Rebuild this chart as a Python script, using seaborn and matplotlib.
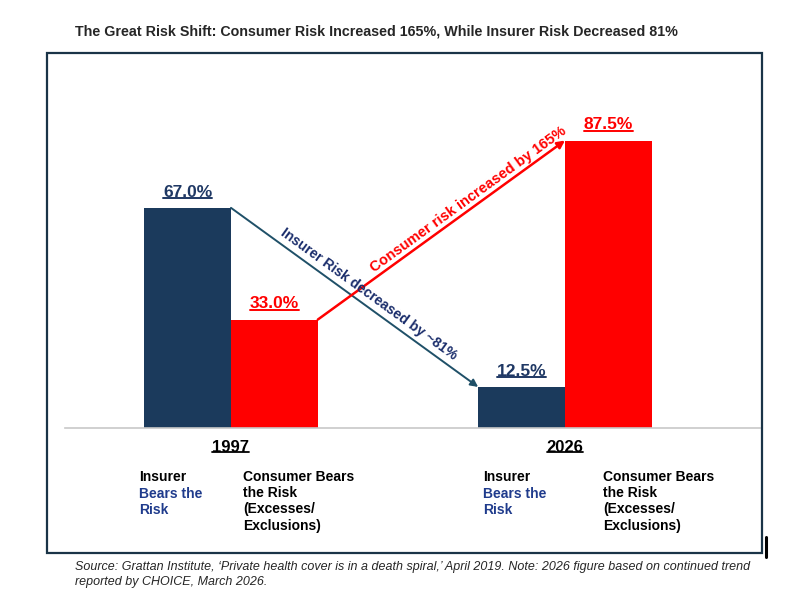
import math
import numpy as np
import pandas as pd
import seaborn as sns
import matplotlib
matplotlib.use("Agg")
import matplotlib.pyplot as plt
import matplotlib.transforms as mtransforms
from matplotlib.lines import Line2D
from matplotlib.patches import Rectangle

# ==========================================
# DATA
# ==========================================
years = ['1997', '2026']
bearers = ['Insurer', 'Consumer']
insurer_share = [67.0, 12.5]
consumer_share = [33.0, 87.5]
change_labels = ['Insurer Risk decreased by ~81%', 'Consumer risk increased by 165%']

title = 'The Great Risk Shift: Consumer Risk Increased 165%, While Insurer Risk Decreased 81%'
source = ("Source: Grattan Institute, \u2018Private health cover is in a death spiral,\u2019 April 2019. "
          "Note: 2026 figure based on continued trend\nreported by CHOICE, March 2026.")

NAVY = '#1b3a5c'
RED = '#ff0000'
LABEL_NAVY = '#1f3864'
SUB_BLUE = '#1f3b8c'
ARROW_NAVY = '#1f5068'

df = pd.DataFrame({
    'year': years * 2,
    'bearer': [bearers[0]] * len(years) + [bearers[1]] * len(years),
    'share': insurer_share + consumer_share,
})

# ==========================================
# FIGURE
# ==========================================
sns.set_style('white')
plt.rcParams['font.family'] = ['Liberation Sans', 'DejaVu Sans']

W, H = 800, 604
fig = plt.figure(figsize=(8, 6.04), dpi=100)

# axes spans the gray baseline, px 65..760, baseline at y=428
ax = fig.add_axes([65 / W, (H - 428) / H, 695 / W, 368 / H])

sns.barplot(data=df, x='year', y='share', hue='bearer', order=years,
            hue_order=bearers, palette=[NAVY, RED], width=0.52, gap=0,
            saturation=1, linewidth=0, legend=False, ax=ax)

ax.set_xlim(-0.497, 1.584)
ax.set_ylim(0, 112)
ax.set_xlabel('')
ax.set_ylabel('')
ax.set_xticks([])
ax.set_yticks([])
for s in ['top', 'left', 'right']:
    ax.spines[s].set_visible(False)
ax.spines['bottom'].set_color('#c8c8c8')
ax.spines['bottom'].set_linewidth(1.2)

# bar geometry from the drawn patches
bars = sorted([p for p in ax.patches if p.get_height() > 0], key=lambda p: p.get_x())
# order: 1997 insurer, 1997 consumer, 2026 insurer, 2026 consumer

renderer = fig.canvas.get_renderer()


def underline(t, color, lw=1.4, off=1.5):
    bb = t.get_window_extent(renderer=renderer)
    inv = fig.transFigure.inverted()
    (x0, y0), (x1, _) = inv.transform([[bb.x0, bb.y0 + off], [bb.x1, bb.y0 + off]])
    fig.add_artist(Line2D([x0, x1], [y0, y0], transform=fig.transFigure,
                          color=color, lw=lw))


# value labels
for p in bars:
    col = LABEL_NAVY if p.get_facecolor()[2] > 0.2 else RED
    t = ax.annotate(f'{p.get_height():.1f}%', (p.get_x() + p.get_width() / 2, p.get_height()),
                    xytext=(0, 8), textcoords='offset points', ha='center', va='baseline',
                    fontsize=12.5, fontweight='bold', color=col)
    underline(t, col)

# arrows between bar corners
ins_start = (bars[0].get_x() + bars[0].get_width(), bars[0].get_height())
ins_end = (bars[2].get_x(), bars[2].get_height())
con_start = (bars[1].get_x() + bars[1].get_width(), bars[1].get_height())
con_end = (bars[3].get_x(), bars[3].get_height())

ax.annotate('', xy=ins_end, xytext=ins_start,
            arrowprops=dict(arrowstyle='-|>', color=ARROW_NAVY, lw=1.4,
                            shrinkA=0, shrinkB=0, mutation_scale=11))
ax.annotate('', xy=con_end, xytext=con_start,
            arrowprops=dict(arrowstyle='-|>', color=RED, lw=1.8,
                            shrinkA=0, shrinkB=0, mutation_scale=11))


def along_text(start, end, txt, t, d, color, size):
    a = ax.transData.transform(start)
    b = ax.transData.transform(end)
    v = b - a
    L = np.hypot(*v)
    u = v / L
    n = np.array([-u[1], u[0]])
    if n[1] < 0:
        n = -n
    c = a + t * v + d * n
    ang = math.degrees(math.atan2(v[1], v[0]))
    fig.text(c[0] / W, c[1] / H, txt, rotation=ang, rotation_mode='anchor',
             ha='center', va='center', fontsize=size, fontweight='bold', color=color)


along_text(ins_start, ins_end, change_labels[0], 0.53, 11, '#1a2d6b', 10.1)
along_text(con_start, con_end, change_labels[1], 0.63, 9, RED, 10.5)

# year labels + sub labels (x data, y figure)
blend = mtransforms.blended_transform_factory(ax.transData, fig.transFigure)
for i, yr in enumerate(years):
    t = ax.text(i, (H - 447) / H, yr, transform=blend, ha='center', va='center',
                fontsize=12, fontweight='bold', color='black')
    underline(t, 'black', lw=1.3, off=2.5)

sub_x = [(-0.275, 0.036), (0.754, 1.114)]
y_top = (H - 470) / H
line_h = 17 / H
for ix, cx in sub_x:
    ax.text(ix, y_top, 'Insurer', transform=blend, ha='left', va='top',
            fontsize=10, fontweight='bold', color='black')
    ax.text(ix, y_top - line_h, 'Bears the\nRisk', transform=blend, ha='left', va='top',
            fontsize=10, fontweight='bold', color=SUB_BLUE, linespacing=1.2)
    ax.text(cx, y_top, 'Consumer Bears\nthe Risk\n(Excesses/\nExclusions)', transform=blend,
            ha='left', va='top', fontsize=10, fontweight='bold', color='black', linespacing=1.2)

# frame
fig.add_artist(Rectangle((47 / W, (H - 553) / H), 715 / W, 500 / H, transform=fig.transFigure,
                         fill=False, edgecolor='#1a3447', lw=1.6))
fig.add_artist(Line2D([766 / W, 766 / W], [(H - 537) / H, (H - 557) / H],
                      transform=fig.transFigure, color='black', lw=2.2))

# title and source
fig.text(75 / W, (H - 32) / H, title, ha='left', va='center', fontsize=10.3,
         fontweight='bold', family=['Liberation Sans Narrow', 'Liberation Sans'])
fig.text(75 / W, (H - 561) / H, source, ha='left', va='top', fontsize=9,
         style='italic', linespacing=1.3)

fig.savefig('out.png', dpi=100)
